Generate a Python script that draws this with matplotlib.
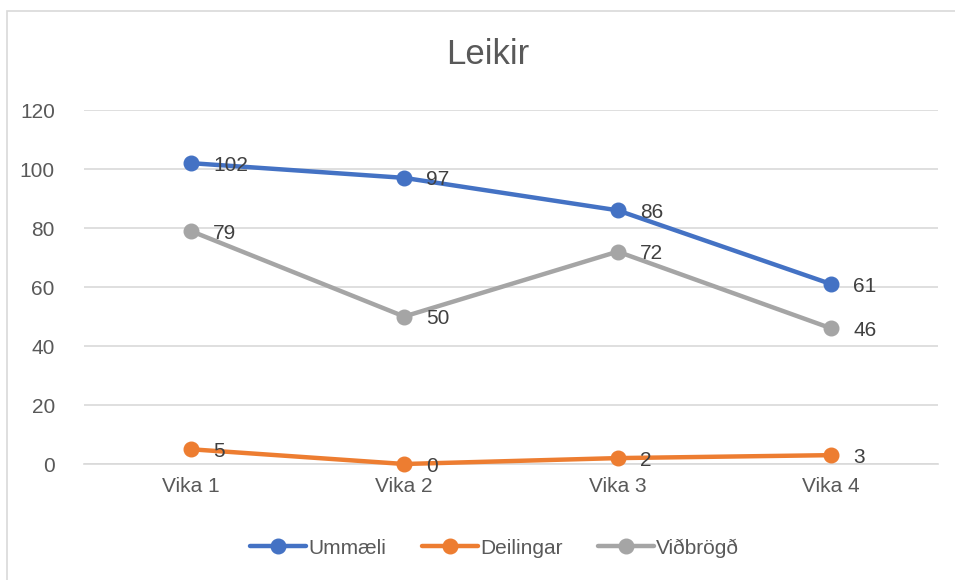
import matplotlib.pyplot as plt
from matplotlib.patches import Rectangle

weeks = ['Vika 1', 'Vika 2', 'Vika 3', 'Vika 4']
ummaeli = [102, 97, 86, 61]
deilingar = [5, 0, 2, 3]
vidbrogd = [79, 50, 72, 46]

series = [
    ('Ummæli', ummaeli, '#4472C4'),
    ('Deilingar', deilingar, '#ED7D31'),
    ('Viðbrögð', vidbrogd, '#A5A5A5'),
]

plt.rcParams['font.family'] = ['Liberation Sans', 'DejaVu Sans']
text_color = '#595959'

fig = plt.figure(figsize=(9.55, 5.8), dpi=100)
ax = fig.add_axes([0.088, 0.2, 0.894, 0.6103])

# outer chart border
fig.patches.append(Rectangle((7 / 955, -0.1), 1.2, 1 - 11 / 580 + 0.1,
                             transform=fig.transFigure, fill=False,
                             edgecolor='#d9d9d9', linewidth=1.2))

x = range(len(weeks))
for name, vals, color in series:
    ax.plot(x, vals, color=color, linewidth=3.2, marker='o', markersize=10.5,
            label=name, solid_capstyle='round', zorder=3, clip_on=False)
    for xi, v in zip(x, vals):
        ax.annotate(str(v), (xi, v), xytext=(16, -1.5), textcoords='offset points',
                    ha='left', va='center', fontsize=15, color='#404040', zorder=4)

ax.set_xlim(-0.5, 3.5)
ax.set_ylim(0, 120)
ax.set_yticks(range(0, 121, 20))
ax.set_xticks(list(x))
ax.set_xticklabels(weeks)
ax.yaxis.grid(True, color='#d9d9d9', linewidth=1.2, zorder=0)
ax.set_axisbelow(True)
for s in ['top', 'right', 'left']:
    ax.spines[s].set_visible(False)
ax.spines['bottom'].set_color('#d9d9d9')
ax.spines['bottom'].set_linewidth(1.2)
ax.tick_params(axis='both', length=0, labelsize=15, colors=text_color, pad=9)
ax.tick_params(axis='y', pad=21)

fig.text(0.511, 1 - 55 / 580, 'Leikir', fontsize=25, color=text_color,
         ha='center', va='center')

fig.legend(loc='center', bbox_to_anchor=(0.518, 0.055), ncol=3, frameon=False,
           fontsize=15, labelcolor=text_color, handlelength=2.7,
           handletextpad=0.1, columnspacing=1.7)

fig.savefig('out.png', dpi=100)
